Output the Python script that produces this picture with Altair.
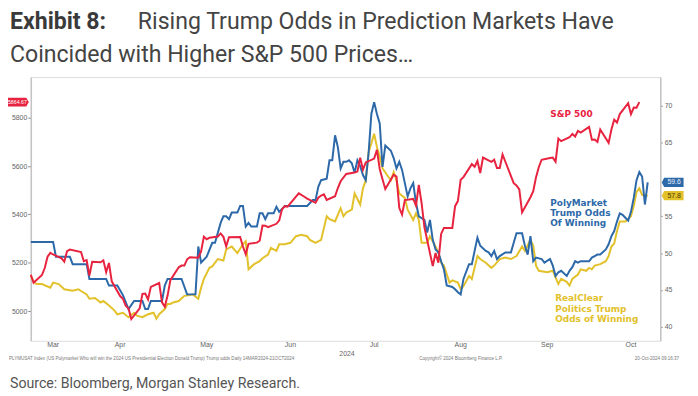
import altair as alt
import pandas as pd

# ---------------- data ----------------
sp_dates = [
    "2024-03-14","2024-03-15","2024-03-18","2024-03-19","2024-03-20","2024-03-21","2024-03-22","2024-03-25",
    "2024-03-26","2024-03-27","2024-03-28","2024-04-01","2024-04-02","2024-04-03","2024-04-04","2024-04-05",
    "2024-04-08","2024-04-09","2024-04-10","2024-04-11","2024-04-12","2024-04-15","2024-04-16","2024-04-17",
    "2024-04-18","2024-04-19","2024-04-22","2024-04-23","2024-04-24","2024-04-25","2024-04-26","2024-04-29",
    "2024-04-30","2024-05-01","2024-05-02","2024-05-03","2024-05-06","2024-05-07","2024-05-08","2024-05-09",
    "2024-05-10","2024-05-13","2024-05-14","2024-05-15","2024-05-16","2024-05-17","2024-05-20","2024-05-21",
    "2024-05-22","2024-05-23","2024-05-24","2024-05-28","2024-05-29","2024-05-30","2024-05-31","2024-06-03",
    "2024-06-04","2024-06-05","2024-06-06","2024-06-07","2024-06-10","2024-06-11","2024-06-12","2024-06-13",
    "2024-06-14","2024-06-17","2024-06-18","2024-06-20","2024-06-21","2024-06-24","2024-06-25","2024-06-26",
    "2024-06-27","2024-06-28","2024-07-01","2024-07-02","2024-07-03","2024-07-05","2024-07-08","2024-07-09",
    "2024-07-10","2024-07-11","2024-07-12","2024-07-15","2024-07-16","2024-07-17","2024-07-18","2024-07-19",
    "2024-07-22","2024-07-23","2024-07-24","2024-07-25","2024-07-26","2024-07-29","2024-07-30","2024-07-31",
    "2024-08-01","2024-08-02","2024-08-05","2024-08-06","2024-08-07","2024-08-08","2024-08-09","2024-08-12",
    "2024-08-13","2024-08-14","2024-08-15","2024-08-16","2024-08-19","2024-08-20","2024-08-21","2024-08-22",
    "2024-08-23","2024-08-26","2024-08-27","2024-08-28","2024-08-29","2024-08-30","2024-09-03","2024-09-04",
    "2024-09-05","2024-09-06","2024-09-09","2024-09-10","2024-09-11","2024-09-12","2024-09-13","2024-09-16",
    "2024-09-17","2024-09-18","2024-09-19","2024-09-20","2024-09-23","2024-09-24","2024-09-25","2024-09-26",
    "2024-09-27","2024-09-30","2024-10-01","2024-10-02","2024-10-03","2024-10-04","2024-10-07","2024-10-08",
    "2024-10-09","2024-10-10","2024-10-11","2024-10-14","2024-10-15","2024-10-16","2024-10-17","2024-10-18",
]
sp_values = [
    5150, 5117, 5149, 5178, 5225, 5241, 5234, 5218,
    5204, 5248, 5254, 5244, 5206, 5211, 5147, 5204,
    5202, 5210, 5161, 5199, 5123, 5062, 5051, 5022,
    5011, 4967, 5011, 5071, 5072, 5048, 5100, 5116,
    5036, 5018, 5064, 5128, 5181, 5188, 5188, 5214,
    5223, 5221, 5247, 5308, 5297, 5303, 5308, 5321,
    5307, 5268, 5305, 5306, 5267, 5235, 5278, 5283,
    5291, 5354, 5353, 5347, 5361, 5375, 5421, 5434,
    5432, 5473, 5487, 5473, 5465, 5448, 5469, 5478,
    5483, 5460, 5475, 5509, 5537, 5567, 5573, 5577,
    5634, 5585, 5615, 5631, 5667, 5588, 5545, 5505,
    5564, 5556, 5427, 5399, 5459, 5464, 5436, 5522,
    5447, 5347, 5186, 5240, 5200, 5319, 5344, 5344,
    5434, 5455, 5543, 5554, 5608, 5597, 5621, 5571,
    5635, 5617, 5626, 5592, 5592, 5648, 5529, 5520,
    5503, 5408, 5471, 5496, 5554, 5596, 5626, 5633,
    5635, 5618, 5714, 5703, 5719, 5733, 5722, 5745,
    5738, 5762, 5709, 5710, 5700, 5751, 5696, 5751,
    5792, 5780, 5815, 5860, 5815, 5842, 5841, 5864.67,
]

# PolyMarket Trump odds (%), x = days since 14-Mar-2024
poly_days = [
    0, 8, 9, 14, 15, 20, 21, 27, 28, 31, 33, 35, 37, 40, 41, 42, 43, 47, 48, 49,
    54, 56, 59, 60, 61, 63, 65, 66, 68, 69, 70, 71, 72, 74, 75, 76, 77, 78, 79, 81,
    82, 83, 84, 85, 87, 88, 89, 91, 99, 101, 102, 103, 104, 106, 107, 108, 109, 110, 111, 112,
    113, 114, 115, 116, 117, 118, 119, 120, 121, 122, 123, 124, 125, 126, 127, 129, 130, 131, 132, 133,
    135, 136, 137, 138, 139, 141, 142, 143, 144, 145, 146, 147, 148, 149, 151, 152, 153, 154, 155, 157,
    158, 160, 161, 163, 164, 165, 166, 167, 168, 170, 172, 173, 174, 176, 177, 178, 179, 180, 181, 183,
    184, 186, 187, 188, 189, 190, 192, 193, 194, 195, 196, 197, 199, 200, 201, 202, 203, 204, 206, 207,
    208, 209, 210, 211, 212, 213, 214, 215, 216, 217, 218, 219, 220, 221,
]
poly_values = [
    51.5, 51.5, 49.5, 49.5, 48.5, 48.5, 46.5, 46.5, 45.6, 45.6, 44.3, 42.4, 43.5, 43.5, 42.4, 42.4, 43.5, 43.5, 45.6, 46.5,
    46.5, 44.4, 44.4, 50.9, 48.7, 49.5, 51.4, 51.4, 54.1, 55.0, 55.0, 54.6, 55.5, 55.5, 56.4, 56.4, 53.6, 54.1, 53.6, 53.6,
    55.4, 55.4, 54.6, 55.4, 55.4, 56.3, 55.6, 56.4, 56.4, 57.2, 57.2, 59.0, 59.9, 60.1, 62.6, 62.6, 66.0, 64.4, 61.5, 62.4,
    62.4, 62.6, 62.2, 60.9, 62.6, 61.8, 60.6, 59.9, 63.5, 68.9, 70.5, 68.9, 67.6, 61.7, 64.6, 63.9, 62.9, 61.5, 62.4, 61.3,
    57.7, 58.8, 59.5, 56.8, 55.0, 54.5, 52.8, 54.5, 51.8, 50.5, 50.1, 48.9, 47.8, 45.6, 45.4, 45.1, 44.7, 44.4, 46.5, 48.5,
    48.5, 52.1, 51.0, 50.3, 50.1, 49.6, 50.3, 49.2, 49.6, 50.1, 50.1, 51.4, 52.7, 52.7, 51.0, 49.8, 52.3, 48.9, 49.4, 49.2,
    48.7, 49.2, 48.3, 46.9, 47.4, 47.6, 46.9, 47.6, 48.1, 48.9, 48.7, 48.9, 48.9, 48.9, 49.4, 49.6, 49.8, 49.8, 50.5, 51.2,
    52.3, 53.0, 54.3, 55.4, 55.2, 54.8, 54.4, 55.6, 57.5, 59.9, 61.0, 60.4, 56.6, 59.6,
]

# RealClear Politics Trump odds (%), x = days since 14-Mar-2024
rcp_days = [
    0, 1, 2, 4, 7, 8, 10, 12, 15, 17, 20, 21, 23, 25, 26, 28, 30, 31, 33, 35,
    37, 38, 40, 42, 44, 45, 46, 48, 49, 50, 51, 53, 55, 57, 58, 60, 61, 62, 64, 65,
    67, 69, 70, 72, 74, 76, 77, 78, 80, 82, 83, 85, 86, 88, 89, 91, 93, 95, 97, 99,
    100, 102, 104, 106, 107, 109, 111, 112, 113, 115, 116, 118, 119, 120, 121, 122, 123, 124, 125, 126,
    128, 129, 130, 131, 132, 134, 135, 137, 138, 139, 140, 142, 143, 145, 146, 147, 148, 150, 151, 153,
    154, 155, 157, 158, 160, 161, 163, 165, 166, 168, 170, 172, 174, 176, 177, 179, 180, 181, 182, 185,
    187, 189, 190, 192, 193, 194, 196, 197, 199, 200, 201, 202, 204, 206, 207, 208, 209, 210, 211, 213,
    215, 216, 217, 218, 219, 220, 221,
]
rcp_values = [
    46.9, 46.2, 45.8, 45.8, 45.3, 46.0, 45.8, 45.1, 44.9, 45.1, 44.4, 43.8, 43.9, 43.3, 43.5, 42.9, 42.2, 41.7, 41.9, 41.3,
    41.9, 41.5, 41.3, 41.7, 41.9, 41.1, 41.7, 42.4, 43.1, 43.1, 43.3, 43.5, 44.2, 44.3, 44.4, 43.8, 45.3, 46.5, 48.0, 48.2,
    49.2, 49.0, 50.5, 50.9, 50.0, 51.2, 51.6, 47.8, 48.5, 48.9, 49.3, 49.8, 50.7, 50.3, 51.2, 51.2, 51.4, 52.3, 52.5, 52.3,
    51.8, 51.4, 51.8, 55.0, 54.6, 54.3, 56.1, 55.0, 55.5, 55.9, 58.1, 56.6, 58.8, 59.9, 63.7, 64.9, 66.2, 64.4, 63.1, 61.5,
    60.4, 59.9, 61.0, 59.9, 58.1, 57.5, 55.9, 54.5, 55.4, 54.5, 51.4, 51.4, 52.3, 50.9, 50.1, 48.7, 48.3, 46.0, 46.3, 46.0,
    45.1, 45.5, 46.9, 46.5, 49.6, 49.2, 48.7, 48.0, 48.3, 49.2, 49.4, 49.2, 49.6, 50.9, 50.3, 51.8, 51.0, 48.3, 47.6, 47.4,
    47.6, 45.8, 46.5, 46.1, 45.6, 46.5, 47.1, 47.8, 47.6, 48.0, 47.8, 48.3, 48.5, 48.9, 49.6, 50.9, 51.3, 53.0, 54.3, 54.3,
    55.0, 56.4, 58.3, 58.8, 57.9, 57.8, 57.8,
]

month_names = ["Mar", "Apr", "May", "Jun", "Jul", "Aug", "Sep", "Oct"]
month_label_dates = ["2024-03-22", "2024-04-15", "2024-05-16", "2024-06-15",
                     "2024-07-15", "2024-08-15", "2024-09-15", "2024-10-15"]
month_tick_months = [4, 5, 6, 7, 8, 9, 10]
left_ticks = [5000, 5200, 5400, 5600, 5800]
right_ticks = [40, 45, 50, 55, 65, 70]

title_bold = "Exhibit 8:"
title_line1 = "Rising Trump Odds in Prediction Markets Have"
title_line2 = "Coincided with Higher S&P 500 Prices\u2026"
source_text = "Source: Bloomberg, Morgan Stanley Research."
foot_left = ("PLYMUSAT Index (US Polymarket Who will win the 2024 US Presidential Election "
             "Donald Trump) Trump odds  Daily 14MAR2024-21OCT2024")
foot_mid = "Copyright\u00a9 2024 Bloomberg Finance L.P."
foot_right = "20-Oct-2024 09:16:37"

# ---------------- style ----------------
RED = "#e8233f"
BLUE = "#2d69a9"
YELLOW = "#e2c12b"
AX = "#c4c4c4"
LAB = "#666666"
W, H = 635, 266
AXFONT = "Liberation Sans"

base = pd.Timestamp("2024-03-14")
sp_df = pd.DataFrame({"date": pd.to_datetime(sp_dates), "value": sp_values})
poly_df = pd.DataFrame({"date": base + pd.to_timedelta(poly_days, unit="D"),
                        "value": poly_values, "series": "PolyMarket"})
rcp_df = pd.DataFrame({"date": base + pd.to_timedelta(rcp_days, unit="D"),
                       "value": rcp_values, "series": "RCP"})
odds_df = pd.concat([rcp_df, poly_df], ignore_index=True)
month_df = pd.DataFrame({"date": pd.to_datetime(month_label_dates), "m": month_names})

xscale = alt.Scale(domain=[alt.DateTime(year=2024, month=3, date=14),
                           alt.DateTime(year=2024, month=10, date=25, hours=12)])
x_axis = alt.Axis(values=[alt.DateTime(year=2024, month=m, date=1) for m in month_tick_months],
                  labels=False, title=None, grid=False, tickSize=3, domainColor=AX,
                  domainWidth=1.5, tickColor="#aaaaaa")

sp_scale = alt.Scale(domain=[4877, 5968], zero=False, nice=False)
odds_scale = alt.Scale(domain=[38.1, 73.9], zero=False, nice=False)
color_scale = alt.Scale(domain=["RCP", "PolyMarket"], range=[YELLOW, BLUE])

# ---------- left group (S&P 500) ----------
sp_line = alt.Chart(sp_df).mark_line(color=RED, strokeWidth=2).encode(
    x=alt.X("date:T", scale=xscale, axis=x_axis),
    y=alt.Y("value:Q", scale=sp_scale,
            axis=alt.Axis(values=left_ticks, title=None, grid=False, tickSize=3, format="d",
                          labelFont=AXFONT, labelFontSize=7, labelColor=LAB, labelPadding=1,
                          labelOverlap=False, domainColor=AX, domainWidth=1.5,
                          tickColor="#888888")),
)

sp_last = sp_df.tail(1).assign(label=f"{sp_values[-1]:.2f}")
sp_badge = alt.Chart(sp_last).mark_point(
    shape="M-1,-0.42L0.76,-0.42L1,0L0.76,0.42L-1,0.42Z", size=441, filled=True,
    opacity=1, color=RED, strokeWidth=0).encode(
    x=alt.value(-12.5), y=alt.Y("value:Q", scale=sp_scale))
sp_badge_text = alt.Chart(sp_last).mark_text(
    color="white", fontSize=5.3, font=AXFONT, align="center", baseline="middle", dx=-1).encode(
    x=alt.value(-12.5), y=alt.Y("value:Q", scale=sp_scale), text="label:N")

month_text = alt.Chart(month_df).mark_text(
    fontSize=7, font=AXFONT, color=LAB, baseline="middle").encode(
    x=alt.X("date:T", scale=xscale), y=alt.value(H + 4), text="m:N")

left_group = alt.layer(sp_line, sp_badge, sp_badge_text, month_text)

# ---------- right group (odds) ----------
odds_lines = alt.Chart(odds_df).mark_line(strokeWidth=2).encode(
    x=alt.X("date:T", scale=xscale, axis=None),
    y=alt.Y("value:Q", scale=odds_scale,
            axis=alt.Axis(orient="right", values=right_ticks, title=None, grid=False,
                          tickSize=2, format="d", labelFont=AXFONT, labelFontSize=7,
                          labelColor=LAB, labelPadding=2, labelOverlap=False,
                          domainColor=AX, domainWidth=1.5, tickColor="#888888")),
    color=alt.Color("series:N", scale=color_scale, legend=None),
    detail="series:N",
)

odds_last = odds_df.groupby("series", as_index=False).last()
odds_last["label"] = odds_last["value"].map(lambda v: f"{v:.1f}")
odds_badge = alt.Chart(odds_last).mark_point(
    shape="M-1,0L-0.78,-0.42L1,-0.42L1,0.42L-0.78,0.42Z", size=484, filled=True,
    opacity=1, strokeWidth=0).encode(
    x=alt.value(W + 12.5), y=alt.Y("value:Q", scale=odds_scale),
    color=alt.Color("series:N", scale=color_scale, legend=None))
poly_badge_text = alt.Chart(odds_last).transform_filter(
    alt.datum.series == "PolyMarket").mark_text(
    color="#e8f0ff", fontSize=7, font=AXFONT, baseline="middle").encode(
    x=alt.value(W + 14), y=alt.Y("value:Q", scale=odds_scale), text="label:N")
rcp_badge_text = alt.Chart(odds_last).transform_filter(
    alt.datum.series == "RCP").mark_text(
    color="#4a3a00", fontSize=7, font=AXFONT, baseline="middle").encode(
    x=alt.value(W + 14), y=alt.Y("value:Q", scale=odds_scale), text="label:N")

right_group = alt.layer(odds_lines, odds_badge, poly_badge_text, rcp_badge_text)

# ---------- annotations / titles ----------
def txt(df, **kw):
    return alt.Chart(df).mark_text(**kw)

ann_rows = pd.DataFrame({
    "t": ["S&P 500", "PolyMarket", "Trump Odds", "Of Winning",
          "RealClear", "Politics Trump", "Odds of Winning"],
    "x": [524, 524, 524, 524, 529, 529, 529],
    "y": [37.3, 126.7, 137.2, 147.5, 223.3, 234.0, 244.5],
    "c": [RED, BLUE, BLUE, BLUE, YELLOW, YELLOW, YELLOW],
})
ann = alt.Chart(ann_rows).mark_text(
    font="DejaVu Sans", fontWeight="bold", fontSize=9, align="left", baseline="middle").encode(
    x=alt.X("x:Q", scale=None), y=alt.Y("y:Q", scale=None), text="t:N",
    color=alt.Color("c:N", scale=None))

one = pd.DataFrame({"a": [0]})
TF = 23.3
t_bold = txt(one, text=title_bold, font="Roboto", fontWeight="bold", fontSize=TF,
             color="#3a3a3a", align="left", baseline="alphabetic").encode(
    x=alt.value(-21), y=alt.value(-49))
t_l1 = txt(one, text=title_line1, font="Roboto", fontWeight="normal", fontSize=TF,
           color="#444444", align="left", baseline="alphabetic").encode(
    x=alt.value(108), y=alt.value(-49))
t_l2 = txt(one, text=title_line2, font="Roboto", fontWeight="normal", fontSize=TF,
           color="#444444", align="left", baseline="alphabetic").encode(
    x=alt.value(-21), y=alt.value(-15))
year_t = txt(one, text="2024", font=AXFONT, fontSize=7, color=LAB,
             align="center", baseline="middle").encode(x=alt.value(319), y=alt.value(H + 13))
f_left = txt(one, text=foot_left, font=AXFONT, fontSize=4.6, color="#777777",
             align="left", baseline="middle").encode(x=alt.value(-22), y=alt.value(H + 18))
f_mid = txt(one, text=foot_mid, font=AXFONT, fontSize=4.6, color="#777777",
            align="center", baseline="middle").encode(x=alt.value(434), y=alt.value(H + 18))
f_right = txt(one, text=foot_right, font=AXFONT, fontSize=4.6, color="#777777",
              align="right", baseline="middle").encode(x=alt.value(654), y=alt.value(H + 18))
src = txt(one, text=source_text, font="Roboto", fontSize=14.3, color="#555555",
          align="left", baseline="alphabetic").encode(x=alt.value(-21), y=alt.value(H + 48))

annotations = alt.layer(ann, t_bold, t_l1, t_l2, year_t, f_left, f_mid, f_right, src)

chart = alt.layer(right_group, left_group, annotations).resolve_scale(
    y="independent", color="independent"
).properties(
    width=W, height=H,
    autosize=alt.AutoSizeParams(type="none"),
    padding={"left": 23, "top": 68, "right": 30, "bottom": 52},
).configure_view(stroke=None).configure(background="white")

chart.save("out.html", embed_options={"renderer": "svg", "actions": False})
